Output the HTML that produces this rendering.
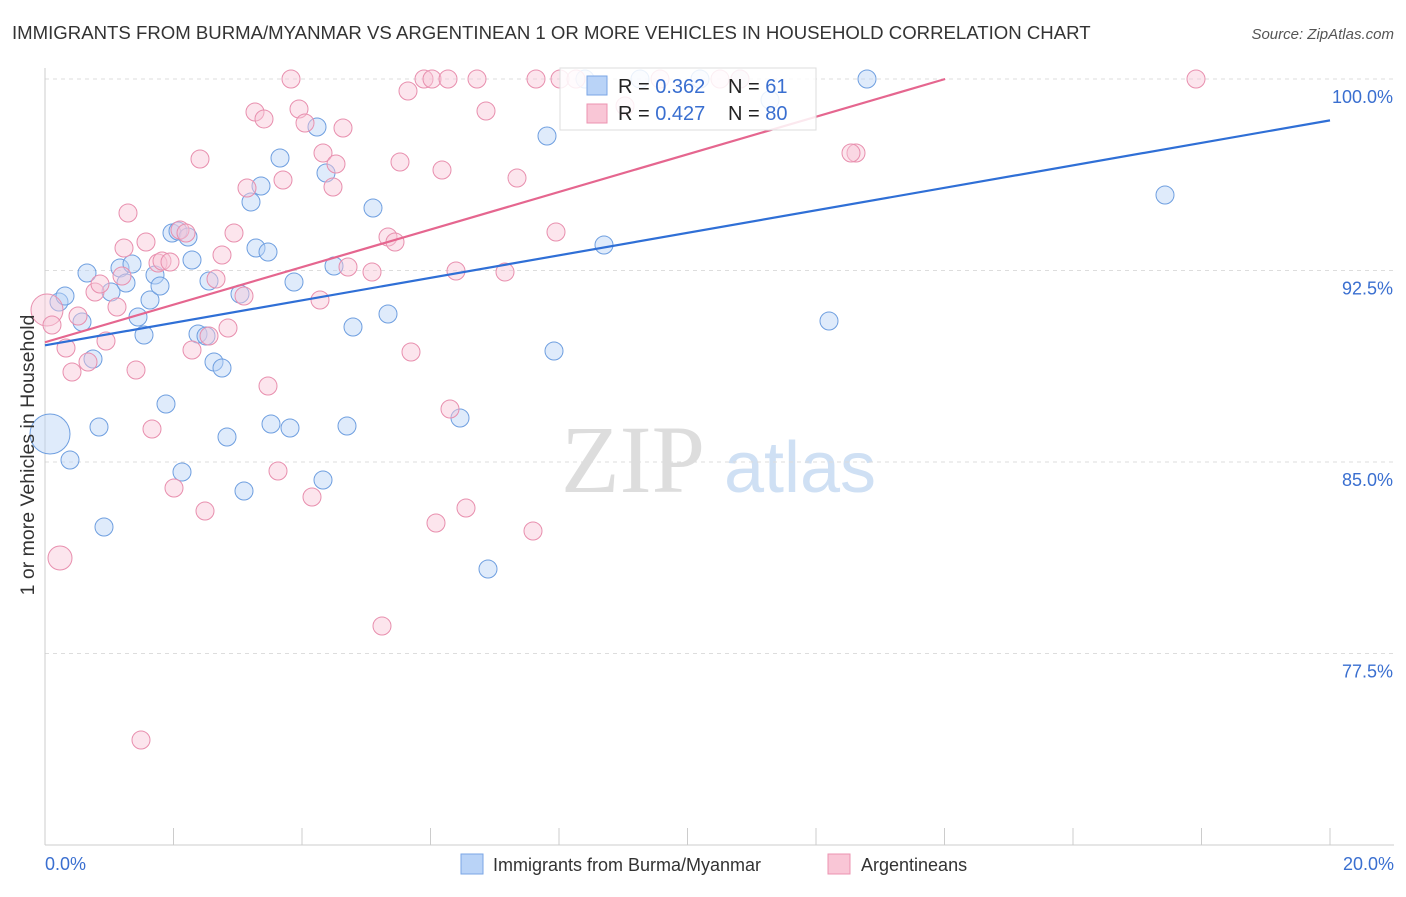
<!DOCTYPE html>
<html><head><meta charset="utf-8"><style>
body{margin:0;background:#fff;font-family:"Liberation Sans",sans-serif}
</style></head><body>
<svg width="1406" height="892" xmlns="http://www.w3.org/2000/svg">
<text x="12" y="39" font-size="18.6" fill="#333">IMMIGRANTS FROM BURMA/MYANMAR VS ARGENTINEAN 1 OR MORE VEHICLES IN HOUSEHOLD CORRELATION CHART</text>
<text x="1394" y="39" font-size="15" fill="#555" font-style="italic" text-anchor="end">Source: ZipAtlas.com</text>
<text x="633" y="492" font-size="96" fill="#ddd" font-family="Liberation Serif" text-anchor="middle">ZIP</text>
<text x="800" y="492" font-size="72" fill="#cfe0f4" text-anchor="middle">atlas</text>
<g id="grid"></g>
<g id="axes"></g>
<g id="pts"></g>
<g id="lines"></g>
<text x="34" y="455" font-size="19.5" fill="#333" text-anchor="middle" transform="rotate(-90 34 455)">1 or more Vehicles in Household</text>
<text x="45" y="870" font-size="18" fill="#3a6fd0">0.0%</text>
<text x="1394" y="870" font-size="18" fill="#3a6fd0" text-anchor="end">20.0%</text>
<g>
<rect x="461" y="854" width="22" height="20" fill="#b9d3f7" stroke="#7aa6e6"/>
<text x="493" y="871" font-size="18" fill="#333">Immigrants from Burma/Myanmar</text>
<rect x="828" y="854" width="22" height="20" fill="#f9c6d6" stroke="#ec93b0"/>
<text x="861" y="871" font-size="18" fill="#333">Argentineans</text>
</g>
<g>
<rect x="560" y="68" width="256" height="62" fill="#fff" fill-opacity="0.85" stroke="#ddd"/>
<rect x="587" y="76" width="20" height="19" fill="#b9d3f7" stroke="#7aa6e6"/>
<rect x="587" y="104" width="20" height="19" fill="#f9c6d6" stroke="#ec93b0"/>
<text x="618" y="93" font-size="20" fill="#222">R = <tspan fill="#3a6fd0">0.362</tspan></text>
<text x="728" y="93" font-size="20" fill="#222">N = <tspan fill="#3a6fd0">  61</tspan></text>
<text x="618" y="120" font-size="20" fill="#222">R = <tspan fill="#3a6fd0">0.427</tspan></text>
<text x="728" y="120" font-size="20" fill="#222">N = <tspan fill="#3a6fd0">80</tspan></text>
</g>
</svg>
<script>
const yTicks=[100,92.5,85,77.5];
const yTickLabels=["100.0%","92.5%","85.0%","77.5%"];
const bluePx=[[50,434,20],[59,302],[65,296],[70,460],[82,322],[87,273],[93,359],[99,427],[104,527],[111,292],[120,268],[126,283],[132,264],[138,317],[144,335],[150,300],[155,275],[160,286],[166,404],[172,233],[178,231],[182,472],[188,237],[192,260],[198,334],[206,336],[209,281],[214,362],[222,368],[227,437],[240,294],[244,491],[251,202],[256,248],[261,186],[268,252],[271,424],[280,158],[290,428],[294,282],[317,127],[323,480],[326,173],[334,266],[347,426],[353,327],[373,208],[388,314],[460,418],[488,569],[547,136],[554,351],[604,245],[829,321],[867,79],[1165,195],[640,79],[700,79],[740,79],[585,79],[770,100]];
const pinkPx=[[47,310,16],[52,325],[60,558,12],[66,348],[72,372],[78,316],[88,362],[95,292],[100,284],[106,341],[117,307],[122,276],[124,248],[128,213],[136,370],[141,740],[146,242],[152,429],[158,263],[162,261],[170,262],[174,488],[180,230],[186,233],[192,350],[200,159],[205,511],[209,336],[216,279],[222,255],[228,328],[234,233],[244,296],[247,188],[255,112],[264,119],[268,386],[278,471],[283,180],[291,79],[299,109],[305,123],[312,497],[320,300],[323,153],[333,187],[336,164],[343,128],[348,267],[372,272],[382,626],[388,237],[395,242],[400,162],[408,91],[411,352],[424,79],[432,79],[436,523],[442,170],[448,79],[450,409],[456,271],[466,508],[477,79],[486,111],[505,272],[517,178],[533,531],[536,79],[556,232],[560,79],[576,79],[625,106],[856,153],[851,153],[1196,79],[660,79],[720,79],[740,79]];
const toData=p=>[(p[0]-45)/1285*20,100-(p[1]-79)/191.5*7.5,p[2]||9];
const blueX=bluePx.map(p=>toData(p)[0]), blueY=bluePx.map(p=>toData(p)[1]), blueR=bluePx.map(p=>p[2]||9);
const pinkX=pinkPx.map(p=>toData(p)[0]), pinkY=pinkPx.map(p=>toData(p)[1]), pinkR=pinkPx.map(p=>p[2]||9);
const blueTrend=[[0,89.57],[20,98.38]];
const pinkTrend=[[0,89.69],[14.01,100]];
const X=v=>45+v/20*1285, Y=v=>79+(100-v)/7.5*191.5;
const NS="http://www.w3.org/2000/svg";
function mk(t,a,par){const e=document.createElementNS(NS,t);for(const k in a)e.setAttribute(k,a[k]);document.getElementById(par).appendChild(e);return e;}
yTicks.forEach((t,i)=>{
 const l=mk('line',{x1:45,x2:1394,y1:Y(t),y2:Y(t),stroke:'#ddd','stroke-dasharray':'4,4'},'grid');
 
 
 const tx=mk('text',{x:1393,y:Y(t)+24,'font-size':18,fill:'#3a6fd0','text-anchor':'end'},'grid');
 tx.textContent=yTickLabels[i];
 
 
});
const ax=mk('line',{x1:45,x2:45,y1:68,y2:845,stroke:'#ccc'},'axes');


const bx=mk('line',{x1:45,x2:1394,y1:845,y2:845,stroke:'#ccc'},'axes');


for(let i=1;i<=10;i++){const t=mk('line',{x1:X(i*2),x2:X(i*2),y1:828,y2:845,stroke:'#ccc'},'axes');
 
 }
function dots(xs,ys,rs,fill,stroke,name){xs.forEach((x,i)=>{const c=mk('circle',{cx:X(x),cy:Y(ys[i]),r:rs[i],fill:fill,'fill-opacity':0.45,stroke:stroke,'stroke-width':1},'pts');
 
 });}
dots(blueX,blueY,blueR,'#b9d3f7','#6f9fe0','point-burma');
dots(pinkX,pinkY,pinkR,'#f9c6d6','#e88fae','point-argentineans');
const bl=mk('line',{x1:X(blueTrend[0][0]),y1:Y(blueTrend[0][1]),x2:X(blueTrend[1][0]),y2:Y(blueTrend[1][1]),stroke:'#2f6fd6','stroke-width':2.2},'lines');


const pl=mk('line',{x1:X(pinkTrend[0][0]),y1:Y(pinkTrend[0][1]),x2:X(pinkTrend[1][0]),y2:Y(pinkTrend[1][1]),stroke:'#e5668f','stroke-width':2.2},'lines');


</script>
</body></html>
